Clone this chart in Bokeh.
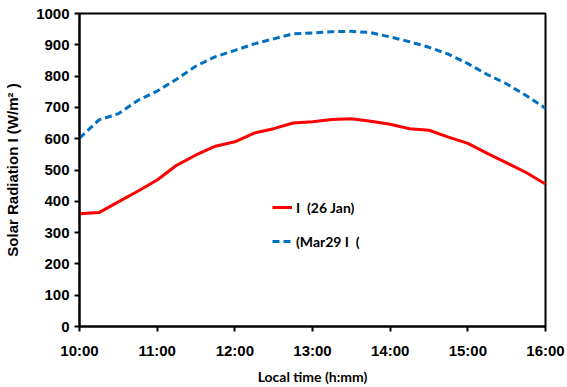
from bokeh.plotting import figure
from bokeh.models import Legend, LegendItem, FixedTicker, Range1d
from bokeh.embed import file_html
from bokeh.resources import INLINE

# Local time in hours (15-minute steps)
hours = [10.0, 10.25, 10.5, 10.75, 11.0, 11.25, 11.5, 11.75, 12.0, 12.25, 12.5, 12.75,
         13.0, 13.25, 13.5, 13.75, 14.0, 14.25, 14.5, 14.75, 15.0, 15.25, 15.5, 15.75, 16.0]
jan26 = [360, 364, 398, 432, 468, 515, 548, 576, 590, 618, 632, 650,
         654, 661, 664, 656, 646, 632, 627, 605, 585, 553, 523, 492, 455]
mar29 = [602, 660, 680, 722, 752, 790, 832, 862, 882, 903, 919, 935,
         938, 942, 943, 939, 925, 910, 892, 870, 840, 805, 775, 738, 697]
tick_hours = [10, 11, 12, 13, 14, 15, 16]
tick_labels = ["10:00", "11:00", "12:00", "13:00", "14:00", "15:00", "16:00"]
y_ticks = list(range(0, 1001, 100))

p = figure(width=567, height=387, output_backend="svg", toolbar_location=None,
           x_range=Range1d(10, 16), y_range=Range1d(0, 1000),
           min_border_left=79, min_border_right=22, min_border_top=13, min_border_bottom=61)
p.xgrid.visible = False
p.ygrid.visible = False
p.outline_line_color = "black"
p.outline_line_width = 2
p.background_fill_color = "white"
p.border_fill_color = "white"

r1 = p.line(hours, jan26, line_color="#FF0000", line_width=3)
r2 = p.line(hours, mar29, line_color="#0070C0", line_width=3, line_dash="7 4")

tick_font = "Liberation Sans"
for ax in (p.xaxis[0], p.yaxis[0]):
    ax.axis_line_color = "black"
    ax.axis_line_width = 2
    ax.major_tick_line_color = "black"
    ax.major_tick_line_width = 2
    ax.major_tick_in = 0
    ax.major_tick_out = 5
    ax.minor_tick_line_color = None
    ax.major_label_text_font = tick_font
    ax.major_label_text_font_style = "bold"
    ax.major_label_text_font_size = "15px"
    ax.major_label_text_color = "black"
    ax.axis_label_text_color = "black"
    ax.axis_label_text_font_style = "bold"

p.xaxis.ticker = FixedTicker(ticks=tick_hours)
p.xaxis.major_label_overrides = {h: l for h, l in zip(tick_hours, tick_labels)}
p.xaxis.major_label_standoff = 10
p.xaxis.axis_label = "Local time (h:mm)"
p.xaxis.axis_label_text_font = "Lato"
p.xaxis.axis_label_text_font_size = "14px"
p.xaxis.axis_label_standoff = 6

p.yaxis.ticker = FixedTicker(ticks=y_ticks)
p.yaxis.major_label_standoff = 5
p.yaxis.axis_label = "Solar Radiation I (W/m\u00b2 )"
p.yaxis.axis_label_text_font = tick_font
p.yaxis.axis_label_text_font_size = "15px"
p.yaxis.axis_label_standoff = 12

legend = Legend(items=[LegendItem(label="I  (26 Jan)", renderers=[r1]),
                       LegendItem(label="(Mar29 I  (", renderers=[r2])],
                location=(193, 75), border_line_color=None, background_fill_alpha=0,
                padding=0, margin=0, spacing=14, glyph_height=20, glyph_width=20,
                label_standoff=4, label_text_font="Lato", label_text_font_style="bold",
                label_text_font_size="14px", label_text_color="black")
p.add_layout(legend, "center")

open("out.html", "w").write(file_html(p, INLINE))
